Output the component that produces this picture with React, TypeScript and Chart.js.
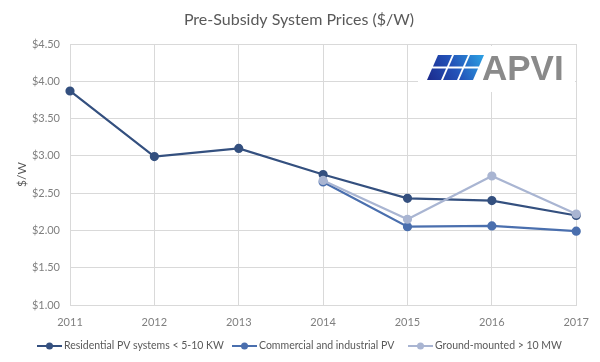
import React, { useEffect, useRef } from "react";
import { Chart, registerables } from "chart.js";

Chart.register(...registerables);

const years = ["2011", "2012", "2013", "2014", "2015", "2016", "2017"];
const residential = [3.87, 2.99, 3.1, 2.75, 2.43, 2.4, 2.2];
const commercial = [null, null, null, 2.65, 2.05, 2.06, 1.99];
const groundMounted = [null, null, null, 2.67, 2.15, 2.73, 2.22];
const seriesNames = [
  "Residential PV systems < 5-10 KW",
  "Commercial and industrial PV",
  "Ground-mounted > 10 MW",
];
const seriesColors = ["#34507f", "#4a6fae", "#a9b5d2"];
const titleText = "Pre-Subsidy System Prices ($/W)";
const yAxisTitle = "$/W";
const logoText = "APVI";

const FONT = "Lato, 'Open Sans', sans-serif";

const decorPlugin = {
  id: "decor",
  afterDraw(chart: any) {
    const ctx = chart.ctx as CanvasRenderingContext2D;
    ctx.save();
    // title
    ctx.fillStyle = "#595959";
    ctx.font = `16px ${FONT}`;
    ctx.textAlign = "center";
    ctx.textBaseline = "middle";
    ctx.fillText(titleText, 299, 20);

    // logo box
    ctx.fillStyle = "#ffffff";
    ctx.fillRect(418, 46, 157, 46);
    // logo cells
    const grad = ctx.createLinearGradient(428, 81, 480, 54);
    grad.addColorStop(0, "#1c2a8c");
    grad.addColorStop(0.5, "#2352b8");
    grad.addColorStop(1, "#2c9be0");
    ctx.fillStyle = grad;
    const cw = 14, ch = 11.5, gap = 2, skew = 5;
    for (let r = 0; r < 2; r++) {
      for (let c = 0; c < 3; c++) {
        const y0 = 55 + r * (ch + gap);
        const x0 = 433 + c * (cw + gap) - r * (skew + 1);
        ctx.beginPath();
        ctx.moveTo(x0 + skew, y0);
        ctx.lineTo(x0 + skew + cw, y0);
        ctx.lineTo(x0 + cw, y0 + ch);
        ctx.lineTo(x0, y0 + ch);
        ctx.closePath();
        ctx.fill();
      }
    }
    ctx.fillStyle = "#8a8a8a";
    ctx.font = `bold 35px 'Liberation Sans', Arial, sans-serif`;
    ctx.textAlign = "left";
    ctx.textBaseline = "alphabetic";
    ctx.fillText(logoText, 482, 80);

    // legend
    const legendX = [37, 232, 408];
    const ly = 346;
    ctx.font = `10.5px ${FONT}`;
    ctx.textBaseline = "middle";
    seriesNames.forEach((name, i) => {
      const x = legendX[i];
      ctx.strokeStyle = seriesColors[i];
      ctx.lineWidth = 2;
      ctx.beginPath();
      ctx.moveTo(x, ly);
      ctx.lineTo(x + 25, ly);
      ctx.stroke();
      ctx.fillStyle = seriesColors[i];
      ctx.beginPath();
      ctx.arc(x + 12.5, ly, 3.5, 0, Math.PI * 2);
      ctx.fill();
      ctx.fillStyle = "#595959";
      ctx.fillText(name, x + 27, ly);
    });
    ctx.restore();
  },
};

export default function App() {
  const ref = useRef<HTMLCanvasElement | null>(null);
  useEffect(() => {
    if (!ref.current) return;
    const datasets = [residential, commercial, groundMounted].map((d, i) => ({
      label: seriesNames[i],
      data: d,
      borderColor: seriesColors[i],
      backgroundColor: seriesColors[i],
      pointBackgroundColor: seriesColors[i],
      pointBorderColor: seriesColors[i],
      pointRadius: 3.5,
      borderWidth: 2.2,
      tension: 0,
      spanGaps: false,
      order: 3 - i,
    }));
    const chart = new Chart(ref.current, {
      type: "line",
      data: { labels: years, datasets },
      plugins: [decorPlugin],
      options: {
        animation: false,
        responsive: false,
        devicePixelRatio: 1,
        layout: { padding: { top: 44, right: 23, bottom: 0, left: 0 } },
        plugins: {
          legend: { display: false },
          title: { display: false },
          tooltip: { enabled: false },
        },
        scales: {
          x: {
            type: "category",
            offset: false,
            afterFit: (s: any) => {
              s.height = 57;
            },
            grid: { color: "#d9d9d9", lineWidth: 1, drawTicks: false },
            border: { color: "#d9d9d9" },
            ticks: {
              color: "#7f7f7f",
              font: { family: FONT, size: 11 },
              padding: 11,
              maxRotation: 0,
            },
          },
          y: {
            min: 1,
            max: 4.5,
            afterFit: (s: any) => {
              s.width = 70;
            },
            grid: { color: "#d9d9d9", lineWidth: 1, drawTicks: false },
            border: { color: "#d9d9d9" },
            ticks: {
              stepSize: 0.5,
              color: "#7f7f7f",
              font: { family: FONT, size: 11 },
              padding: 10,
              callback: (v: any) => "$" + Number(v).toFixed(2),
            },
            title: {
              display: true,
              text: yAxisTitle,
              color: "#595959",
              font: { family: FONT, size: 12 },
              padding: { top: 15, bottom: 0 },
            },
          },
        },
      },
    });
    return () => chart.destroy();
  }, []);
  return (
    <div style={{ position: "absolute", left: 0, top: 0, width: 600, height: 362, background: "#fff" }}>
      <canvas ref={ref} width={600} height={362} style={{ width: 600, height: 362 }} />
    </div>
  );
}
